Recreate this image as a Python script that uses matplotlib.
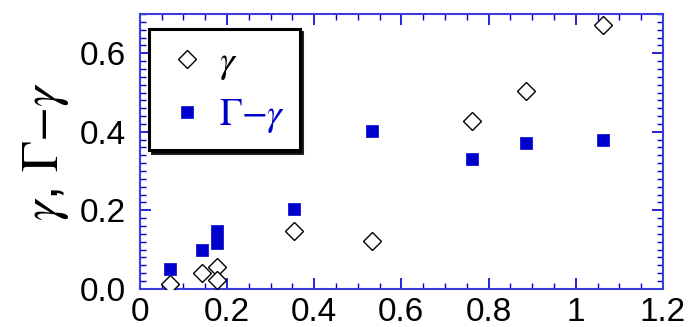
import numpy as np
import matplotlib
matplotlib.use('Agg')
import matplotlib.pyplot as plt
from matplotlib.ticker import MultipleLocator, FuncFormatter

# data
x_vals = [0.070, 0.142, 0.178, 0.178, 0.354, 0.532, 0.763, 0.886, 1.063]
gamma = [0.012, 0.040, 0.055, 0.022, 0.147, 0.122, 0.427, 0.505, 0.671]
big_gamma_minus_gamma = [0.050, 0.098, 0.148, 0.116, 0.202, 0.401, 0.330, 0.372, 0.379]

blue = '#0000cc'
axis_blue = '#3c3cdc'

plt.rcParams['font.family'] = ['Liberation Sans', 'DejaVu Sans']
plt.rcParams['mathtext.fontset'] = 'stix'

fig = plt.figure(figsize=(6.92, 3.27), dpi=100)
ax = fig.add_axes([0.202, 0.117, 0.756, 0.840])

ax.plot(x_vals, gamma, linestyle='none', marker='D', markersize=8.8,
        markerfacecolor='white', markeredgecolor='black', markeredgewidth=1.0,
        label=r'$\gamma$', zorder=3)
ax.plot(x_vals, big_gamma_minus_gamma, linestyle='none', marker='s', markersize=8.6,
        markerfacecolor=blue, markeredgecolor=blue, markeredgewidth=0.5,
        label=r'$\Gamma{-}\gamma$', zorder=3)

ax.set_xlim(0, 1.2)
ax.set_ylim(0, 0.70)

ax.xaxis.set_major_locator(MultipleLocator(0.2))
ax.xaxis.set_minor_locator(MultipleLocator(0.05))
ax.yaxis.set_major_locator(MultipleLocator(0.2))
ax.yaxis.set_minor_locator(MultipleLocator(0.02))
ax.xaxis.set_major_formatter(FuncFormatter(lambda v, p: '%g' % round(v, 2)))
ax.yaxis.set_major_formatter(FuncFormatter(lambda v, p: '%.1f' % v))

for sp in ax.spines.values():
    sp.set_color(axis_blue)
    sp.set_linewidth(1.5)

ax.tick_params(which='both', direction='in', top=True, right=True,
               color=blue, labelsize=24, labelcolor='black')
ax.tick_params(which='major', length=8, width=1.2)
ax.tick_params(which='minor', length=4, width=1.0)
ax.tick_params(axis='x', pad=6)
ax.tick_params(axis='y', pad=10)

ax.set_ylabel(r'$\gamma$, $\Gamma{-}\gamma$', fontsize=37, labelpad=6)

leg = ax.legend(loc='upper left', bbox_to_anchor=(0.018, 0.944), fancybox=False,
                shadow={'color': 'black', 'alpha': 0.85}, framealpha=1, edgecolor='black',
                prop={'size': 27},
                borderpad=0.4, handletextpad=0.25, labelspacing=0.4, handlelength=1.2,
                borderaxespad=0)
leg.get_frame().set_linewidth(2.2)
leg.get_texts()[1].set_color(blue)

fig.savefig('out.png', dpi=100)
